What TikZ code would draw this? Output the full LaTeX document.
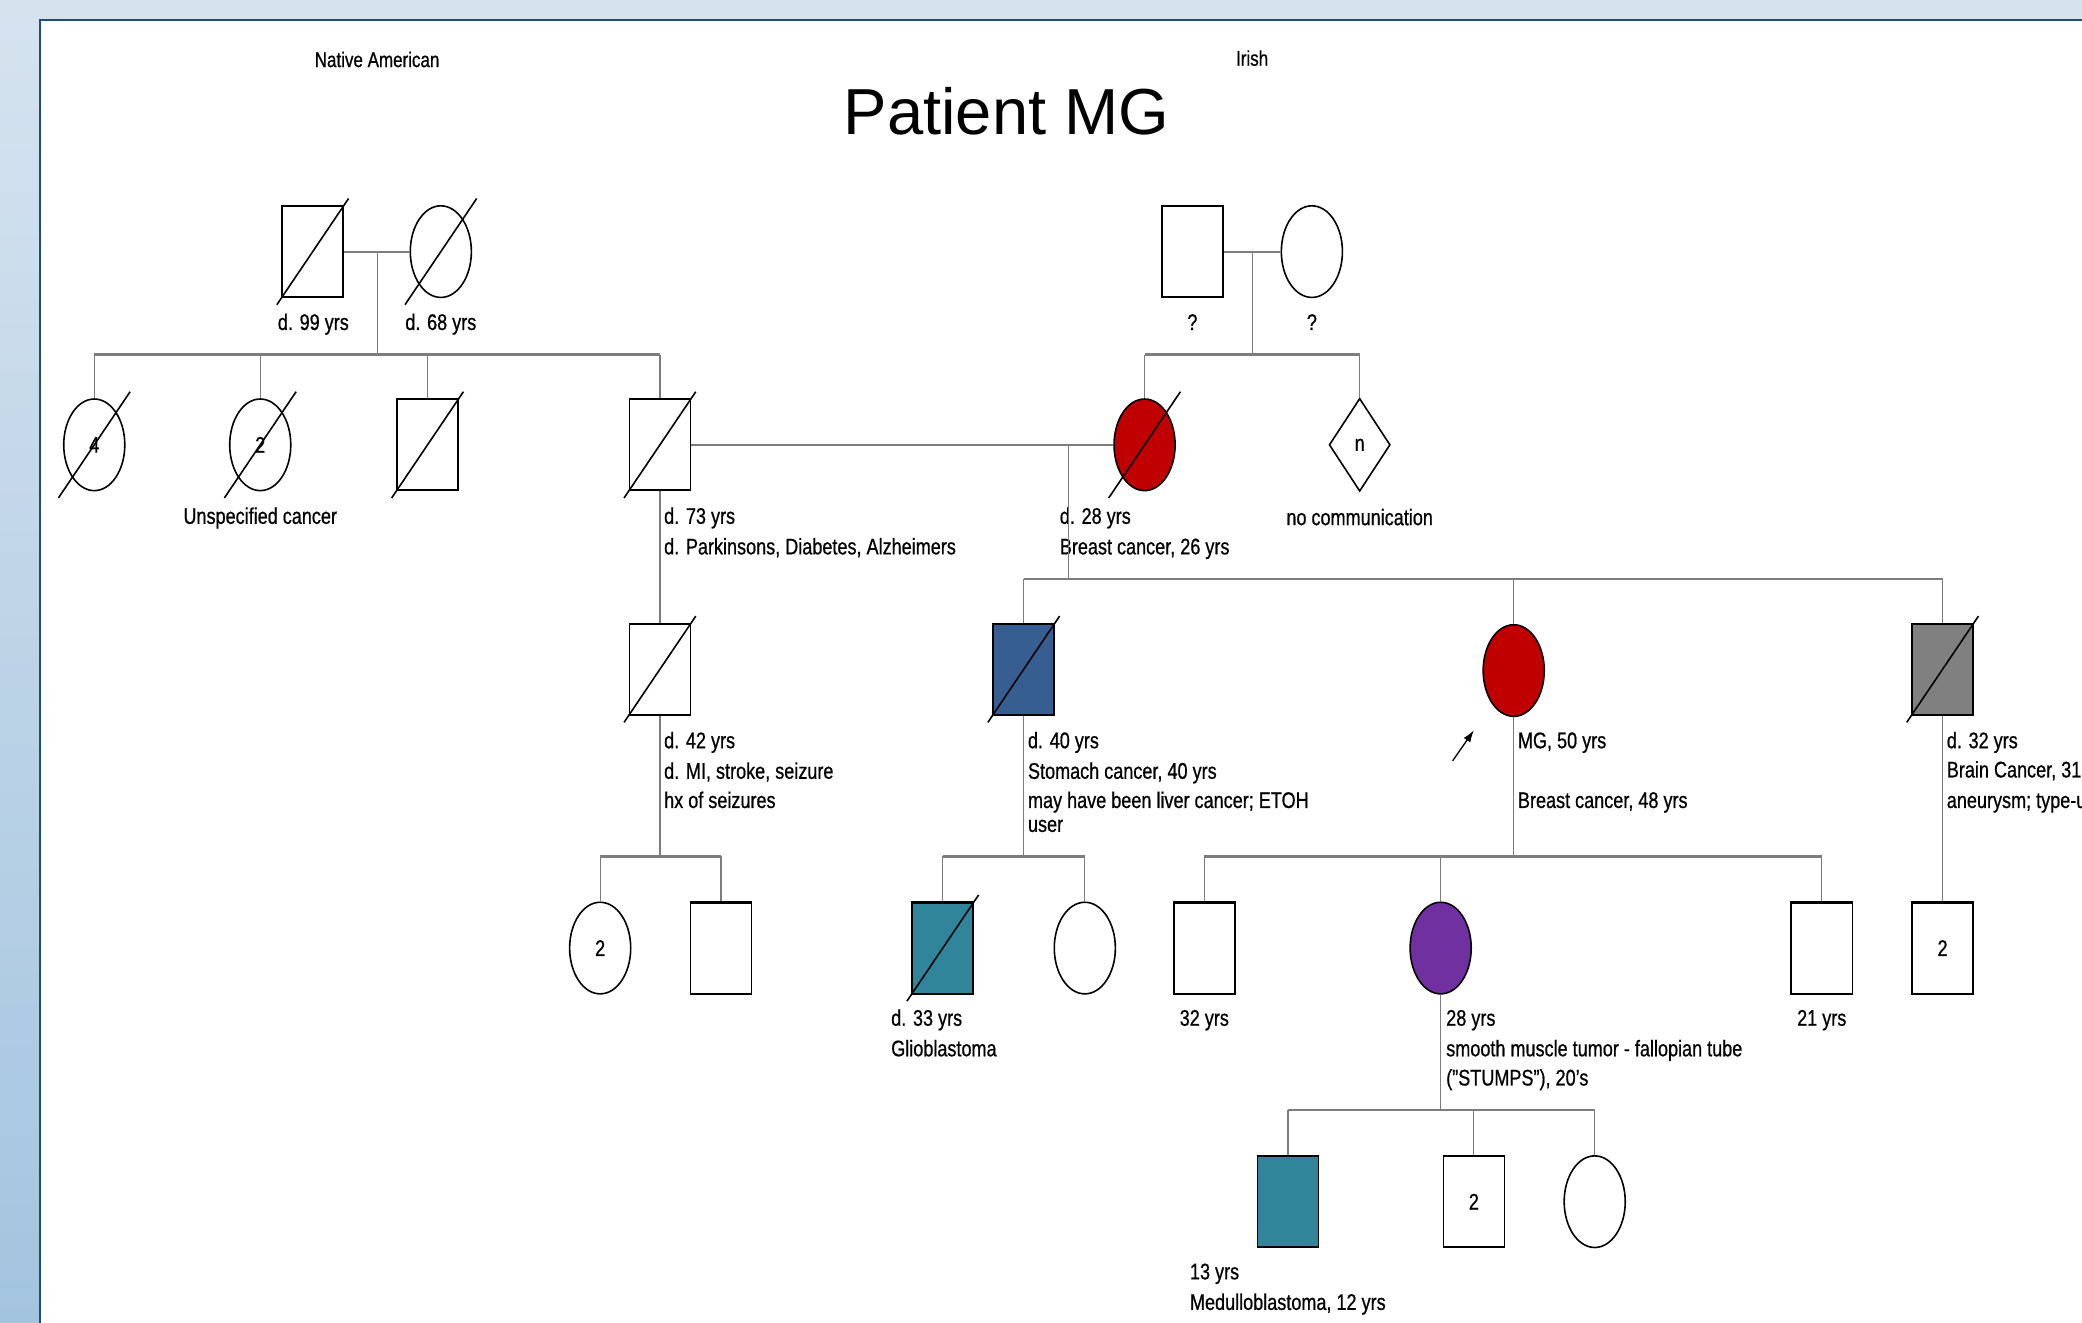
\documentclass[tikz,border=0pt]{standalone}
\usepackage{fontspec}
\setmainfont{Liberation Sans}[FakeStretch=0.8,FakeBold=0.7]
\newfontfamily\titlefont{Liberation Sans}
\usetikzlibrary{shapes.geometric,arrows.meta}
\definecolor{bgtop}{RGB}{214,227,239}
\definecolor{bgbot}{RGB}{163,196,223}
\definecolor{framecol}{RGB}{31,78,121}
\definecolor{affred}{RGB}{192,0,0}
\definecolor{affblue}{RGB}{54,94,144}
\definecolor{affgrey}{RGB}{128,128,128}
\definecolor{affteal}{RGB}{49,133,155}
\definecolor{affpurple}{RGB}{112,48,160}
\definecolor{linegrey}{RGB}{125,125,125}
\newcommand{\lblfont}{\fontsize{17pt}{18pt}\selectfont}
\newcommand{\pedDeceased}[1]{\draw[slashline] ([shift={(-27pt,-40pt)}]#1.center) -- ([shift={(27pt,40pt)}]#1.center);}
\begin{document}
\begin{tikzpicture}[x=1pt,y=-1pt,
  male/.style={rectangle, draw=black, line width=1.2pt, fill=white, minimum width=46pt, minimum height=69pt, inner sep=0pt, font=\lblfont,
    path picture={\draw[line width=2pt] (path picture bounding box.north west) -- (path picture bounding box.north east) (path picture bounding box.south west) -- (path picture bounding box.south east);}},
  female/.style={ellipse, draw=black, line width=1.2pt, fill=white, minimum width=46pt, minimum height=69pt, inner sep=0pt, font=\lblfont},
  unknownsex/.style={diamond, draw=black, line width=1.2pt, fill=white, minimum width=46pt, minimum height=70pt, inner sep=0pt, font=\lblfont},
  mline/.style={draw=linegrey, line width=1.6pt},
  sline/.style={draw=linegrey, line width=1.6pt},
  dline/.style={draw=linegrey, line width=0.9pt},
  slashline/.style={draw=black, line width=1.2pt},
  lbl/.style={anchor=base west, inner sep=0pt, font=\lblfont},
  lblc/.style={anchor=base, inner sep=0pt, font=\lblfont}]
\useasboundingbox (0,0) rectangle (1568,996);
\clip (0,0) rectangle (1568,996);
% background
\shade[top color=bgtop, bottom color=bgbot] (0,0) rectangle (1568,996);
\fill[bgtop] (0,0) rectangle (1568,15);
\fill[white] (30,15) rectangle (1590,1010);
\draw[framecol, line width=1.5pt] (30,1010) -- (30,15) -- (1590,15);

% headings
\node[lblc, font=\fontsize{16pt}{18pt}\selectfont] (natam) at (284,50.5) {Native American};
\node[lblc, font=\fontsize{16pt}{18pt}\selectfont] (irish) at (943,49.5) {Irish};
\node[anchor=base, inner sep=0pt, font=\titlefont\fontsize{49pt}{55pt}\selectfont] (title) at (758,101) {Patient MG};

% junction coordinates
\coordinate (pmj) at (284,189.5);
\coordinate (psj) at (284,267);
\coordinate (psl) at (71,267);
\coordinate (psr) at (497,267);
\coordinate (mmj) at (943,189.5);
\coordinate (msj) at (943,267);
\coordinate (msl) at (862,267);
\coordinate (msr) at (1024,267);
\coordinate (fmj) at (805,335);
\coordinate (fsj) at (805,436);
\coordinate (fsl) at (771,436);
\coordinate (fsr) at (1463,436);
\coordinate (hbj) at (497,645);
\coordinate (hbl) at (452,645);
\coordinate (hbr) at (543,645);
\coordinate (bsj) at (771,645);
\coordinate (bsl) at (710,645);
\coordinate (bsr) at (817,645);
\coordinate (mgj) at (1140,645);
\coordinate (mgl) at (907,645);
\coordinate (mgr) at (1372,645);
\coordinate (pcj) at (1085,836);
\coordinate (pcl) at (970,836);
\coordinate (pcr) at (1201,836);
\coordinate (arrT) at (1094,573);
\coordinate (arrH) at (1110,550);

% Generation I
\node[male] (pgf) at (235.5,189.5) {};
\node[female] (pgm) at (332,189.5) {};
\node[male] (mgf) at (898,189.5) {};
\node[female] (mgm) at (988,189.5) {};
\node[lblc] (pgfl) at (236,248.5) {d. 99 yrs};
\node[lblc] (pgml) at (332,248.5) {d. 68 yrs};
\node[lblc] (mgfl) at (898,248.5) {?};
\node[lblc] (mgml) at (988,248.5) {?};

% Generation II
\node[female] (aunt4) at (71,335) {4};
\node[female] (aunt2) at (196,335) {2};
\node[male] (unc) at (322,335) {};
\node[male] (fa) at (497,335) {};
\node[female, fill=affred] (mo) at (862,335) {};
\node[unknownsex] (nc) at (1024,335) {n};
\node[lblc] (aunt2l) at (196,394.5) {Unspecified cancer};
\node[lbl] (fal1) at (500,394.5) {d. 73 yrs};
\node[lbl] (fal2) at (500,417.5) {d. Parkinsons, Diabetes, Alzheimers};
\node[lbl] (mol1) at (798,394.5) {d. 28 yrs};
\node[lbl] (mol2) at (798,417.5) {Breast cancer, 26 yrs};
\node[lblc] (ncl) at (1024,395.5) {no communication};

% Generation III
\node[male] (hb) at (497,504) {};
\node[male, fill=affblue] (bs) at (771,504) {};
\node[female, fill=affred] (mg) at (1140,505) {};
\node[male, fill=affgrey] (gs) at (1463,504) {};
\node[lbl] (hbl1) at (500,563.5) {d. 42 yrs};
\node[lbl] (hbl2) at (500,586.5) {d. MI, stroke, seizure};
\node[lbl] (hbl3) at (500,608.5) {hx of seizures};
\node[lbl] (bsl1) at (774,563.5) {d. 40 yrs};
\node[lbl] (bsl2) at (774,586.5) {Stomach cancer, 40 yrs};
\node[lbl] (bsl3) at (774,608.5) {may have been liver cancer; ETOH};
\node[lbl] (bsl4) at (774,626.5) {user};
\node[lbl] (mgl1) at (1143,563.5) {MG, 50 yrs};
\node[lbl] (mgl2) at (1143,608.5) {Breast cancer, 48 yrs};
\node[lbl] (gsl1) at (1466,563.5) {d. 32 yrs};
\node[lbl] (gsl2) at (1466,585.5) {Brain Cancer, 31};
\node[lbl] (gsl3) at (1466,608.5) {aneurysm; type-u};

% Generation IV
\node[female] (c2) at (452,714) {2};
\node[male] (s1) at (543,714) {};
\node[male, fill=affteal] (ts) at (710,714) {};
\node[female] (wc) at (817,714) {};
\node[male] (s32) at (907,714) {};
\node[female, fill=affpurple] (pc) at (1085,714) {};
\node[male] (s21) at (1372,714) {};
\node[male] (s2r) at (1463,714) {2};
\node[lbl] (tsl1) at (671,772.5) {d. 33 yrs};
\node[lbl] (tsl2) at (671,795.5) {Glioblastoma};
\node[lblc] (s32l) at (907,772.5) {32 yrs};
\node[lbl] (pcl1) at (1089,772.5) {28 yrs};
\node[lbl] (pcl2) at (1089,795.5) {smooth muscle tumor - fallopian tube};
\node[lbl] (pcl3) at (1089,817.5) {("STUMPS"), 20's};
\node[lblc] (s21l) at (1372,772.5) {21 yrs};

% Generation V
\node[male, fill=affteal] (tv) at (970,905) {};
\node[male] (s2v) at (1110,905) {2};
\node[female] (cv) at (1201,905) {};
\node[lbl] (tvl1) at (896,963.5) {13 yrs};
\node[lbl] (tvl2) at (896,986.5) {Medulloblastoma, 12 yrs};

% connectors: marriages, descents, sibships
\draw[mline] (pgf.east) -- (pgm.west);
\draw[dline] (pmj) -- (psj);
\draw[sline] (psl) -- (psr);
\draw[dline] (psl) -- (aunt4.north);
\draw[dline] (aunt2.north |- psl) -- (aunt2.north);
\draw[dline] (unc.north |- psl) -- (unc.north);
\draw[dline] (psr) -- (fa.north);

\draw[mline] (mgf.east) -- (mgm.west);
\draw[dline] (mmj) -- (msj);
\draw[sline] (msl) -- (msr);
\draw[dline] (msl) -- (mo.north);
\draw[dline] (msr) -- (nc.north);

\draw[mline] (fa.east) -- (mo.west);
\draw[dline] (fmj) -- (fsj);
\draw[sline] (fsl) -- (fsr);
\draw[dline] (fsl) -- (bs.north);
\draw[dline] (mg.north |- fsl) -- (mg.north);
\draw[dline] (fsr) -- (gs.north);

\draw[dline] (fa.south) -- (hb.north);
\draw[dline] (hb.south) -- (hbj);
\draw[sline] (hbl) -- (hbr);
\draw[dline] (hbl) -- (c2.north);
\draw[dline] (hbr) -- (s1.north);

\draw[dline] (bs.south) -- (bsj);
\draw[sline] (bsl) -- (bsr);
\draw[dline] (bsl) -- (ts.north);
\draw[dline] (bsr) -- (wc.north);

\draw[dline] (mg.south) -- (mgj);
\draw[sline] (mgl) -- (mgr);
\draw[dline] (mgl) -- (s32.north);
\draw[dline] (pc.north |- mgl) -- (pc.north);
\draw[dline] (mgr) -- (s21.north);

\draw[dline] (gs.south) -- (s2r.north);

\draw[dline] (pc.south) -- (pcj);
\draw[sline] (pcl) -- (pcr);
\draw[dline] (pcl) -- (tv.north);
\draw[dline] (s2v.north |- pcl) -- (s2v.north);
\draw[dline] (pcr) -- (cv.north);

% proband arrow
\draw[line width=1pt, -{Latex[length=9pt,width=6pt]}] (arrT) -- (arrH);

% deceased slashes
\pedDeceased{pgf}
\pedDeceased{pgm}
\pedDeceased{aunt4}
\pedDeceased{aunt2}
\pedDeceased{unc}
\pedDeceased{fa}
\pedDeceased{mo}
\pedDeceased{hb}
\pedDeceased{bs}
\pedDeceased{gs}
\pedDeceased{ts}
\end{tikzpicture}
\end{document}
